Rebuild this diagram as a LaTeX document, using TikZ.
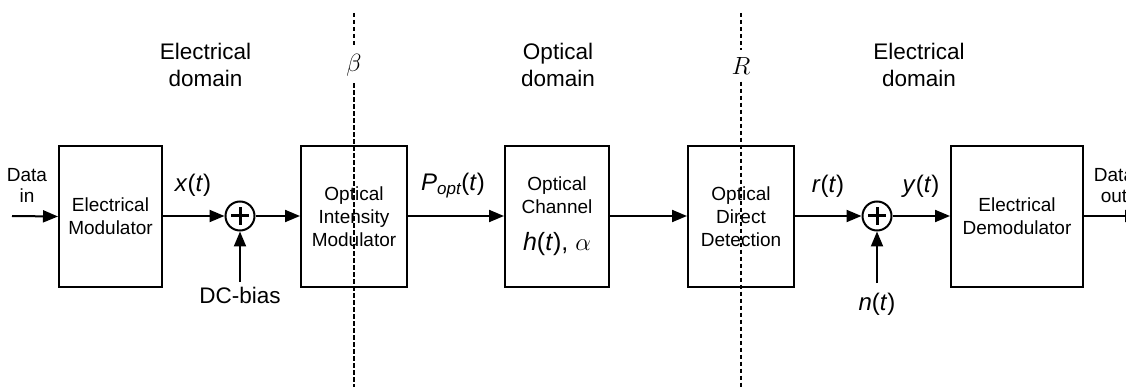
\documentclass[tikz,border=0pt]{standalone}
\usepackage{fontspec}
\setmainfont{Liberation Sans}
\usetikzlibrary{arrows.meta}
\begin{document}
\begin{tikzpicture}[x=1pt,y=-1pt,
  blk/.style={draw, line width=2pt, minimum height=141pt, align=center, inner sep=0pt, font=\fontsize{19}{23}\selectfont},
  sumnode/.style={draw, circle, line width=2pt, minimum size=29pt, inner sep=0pt},
  sig/.style={line width=2pt, -{Triangle[length=15pt,width=12pt]}},
  lbl/.style={font=\fontsize{22.5}{27}\selectfont, align=center, inner sep=0pt},
  sml/.style={font=\fontsize{19}{21}\selectfont, align=center, inner sep=0pt},
  math/.style={font=\fontsize{24}{27}\selectfont, inner sep=0pt},
  greek/.style={font=\fontsize{28}{30}\selectfont, inner sep=7pt},
  cut/.style={line width=2.2pt, dash pattern=on 4.5pt off 2.5pt},
  plus/.style={line width=3pt}
]
\clip (0,0) rectangle (1126,387);
\fill[white] (0,0) rectangle (1126,387);

% blocks
\node[blk, minimum width=103pt] (mod) at (110.5,216.5) {Electrical\\Modulator};
\node[blk, minimum width=106pt] (oim) at (354,216.5) {Optical\\Intensity\\Modulator};
\node[blk, minimum width=104pt] (och) at (557,216.5) {Optical\\Channel\\[14pt]{\fontsize{25}{27}\selectfont\textit{h}(\textit{t}), {\fontsize{27}{27}\selectfont$\alpha$}}};
\node[blk, minimum width=106pt] (odd) at (741,216.5) {Optical\\Direct\\Detection};
\node[blk, minimum width=132pt] (dem) at (1017,216.5) {Electrical\\Demodulator};

% summing junctions
\node[sumnode] (s1) at (240,216) {};
\node[sumnode] (s2) at (877,216) {};
\foreach \s in {s1,s2}{
  \draw[plus] ([xshift=-9pt]\s.center) -- ([xshift=9pt]\s.center);
  \draw[plus] ([yshift=-9pt]\s.center) -- ([yshift=9pt]\s.center);
}

% free ends
\coordinate (din) at (12,216);
\coordinate (dc) at (240,282);
\coordinate (nn) at (877,283);
\coordinate (dout) at (1140,216);

% connectors
\draw[sig] (din) -- (mod.west);
\draw[sig] (mod.east|-s1) -- (s1);
\draw[sig] (s1) -- (oim.west|-s1);
\draw[sig] (dc) -- (s1);
\draw[sig] (oim.east|-s1) -- (och.west|-s1);
\draw[sig] (och.east|-s1) -- (odd.west|-s1);
\draw[sig] (odd.east|-s2) -- (s2);
\draw[sig] (nn) -- (s2);
\draw[sig] (s2) -- (dem.west|-s2);
\draw[sig] (dem.east|-s2) -- (dout);

% signal labels
\node[sml] (tin) at (27,185) {Data\\in};
\node[sml] (tout) at (1114,186) {Data\\out};
\node[math] (xt) at (193,185) {\textit{x}(\textit{t})};
\node[lbl, anchor=north] (tdc) at (240,287) {DC-bias};
\node[math] (popt) at (453,186) {\textit{P}{\fontsize{17}{18}\selectfont\raisebox{-4pt}{\textit{opt}}}(\textit{t})};
\node[math] (rt) at (828,186) {\textit{r}(\textit{t})};
\node[math] (yt) at (921,186) {\textit{y}(\textit{t})};
\node[math] (nt) at (877,304) {\textit{n}(\textit{t})};

% domain labels
\node[lbl] (d1) at (205.5,65) {Electrical\\domain};
\node[lbl] (d2) at (558,65) {Optical\\domain};
\node[lbl] (d3) at (919,65) {Electrical\\domain};

% cut lines
\node[greek] (beta) at (354,65) {$\beta$};
\node[greek] (rr) at (741,66) {$R$};
\coordinate (bt) at (354,13);
\coordinate (bb) at (354,387);
\coordinate (rt0) at (741,13);
\coordinate (rb) at (741,387);
\draw[cut] (bt) -- (beta);
\draw[cut] (beta) -- (bb);
\draw[cut] (rt0) -- (rr);
\draw[cut] (rr) -- (rb);
\end{tikzpicture}
\end{document}
